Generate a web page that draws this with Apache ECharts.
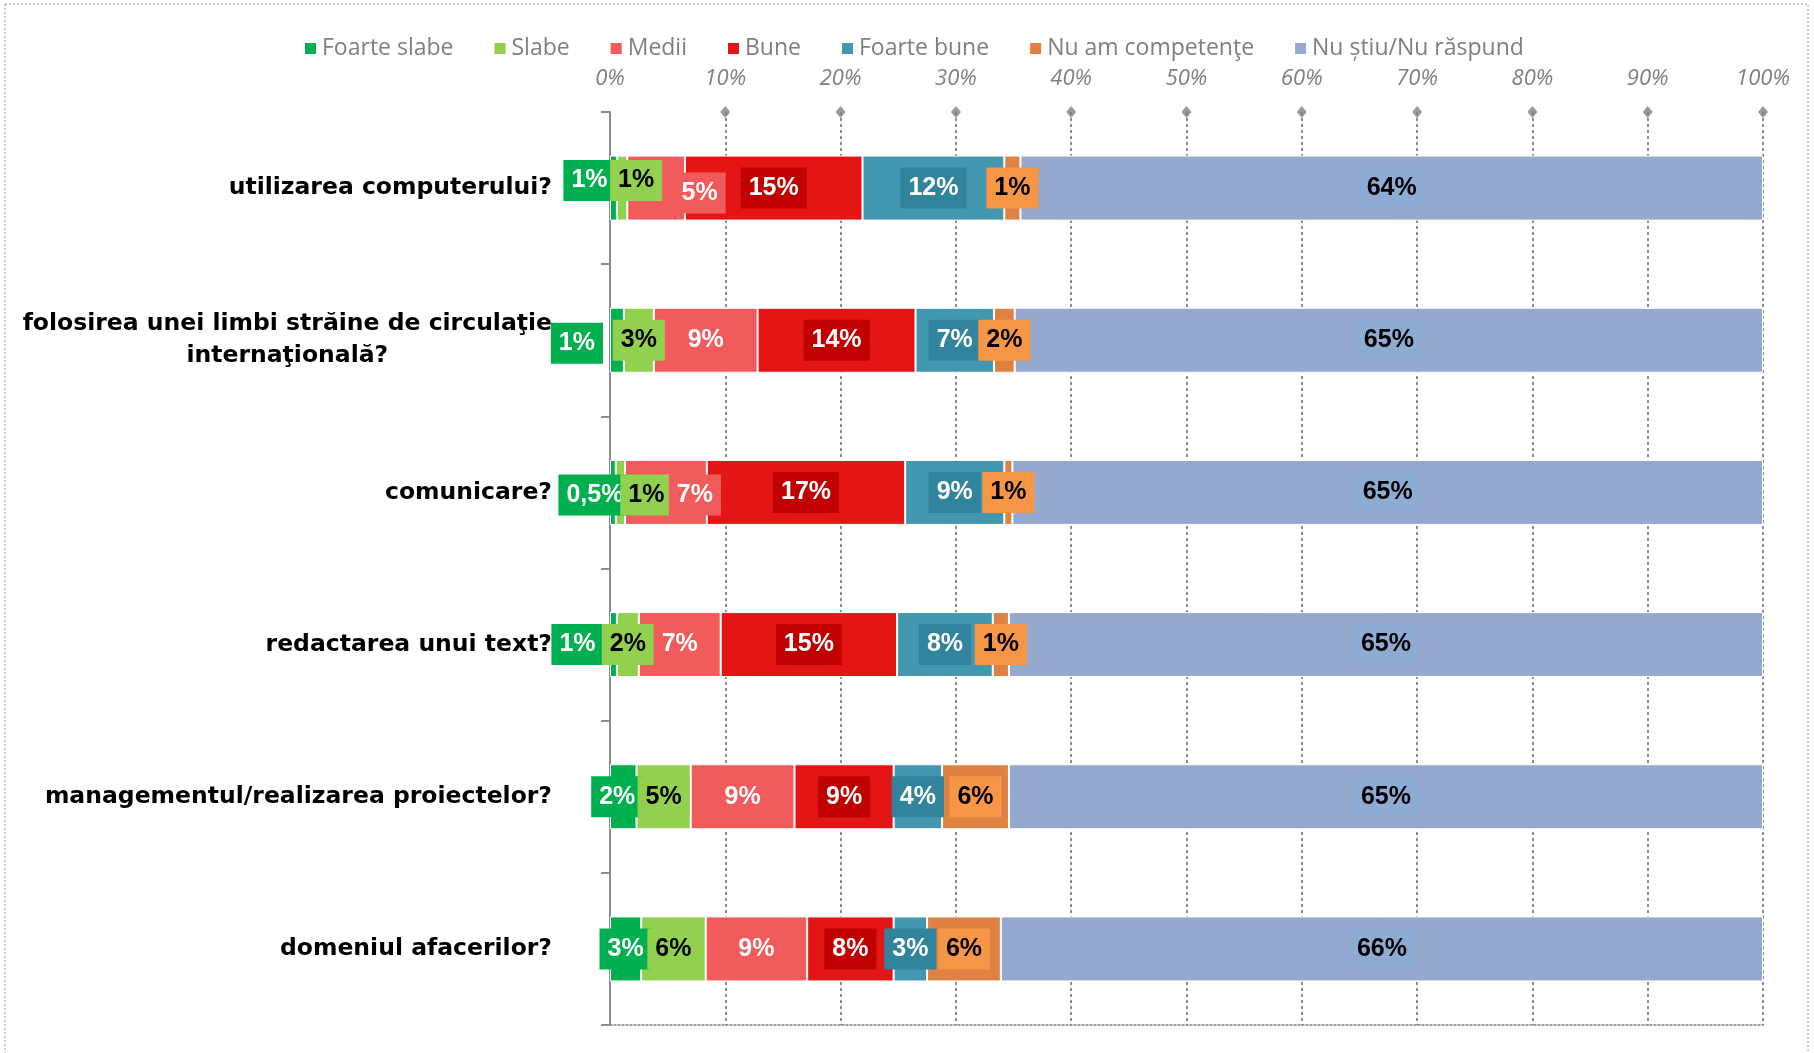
<!DOCTYPE html>
<html>
<head>
<meta charset="utf-8">
<script src="https://cdn.jsdelivr.net/npm/echarts@6/dist/echarts.min.js"></script>
<style>
html,body{margin:0;padding:0;background:#fff;}
#chart{width:1814px;height:1053px;}
</style>
</head>
<body>
<div id="chart"></div>
<script>
// ---- data ----
const categories = [
  'utilizarea computerului?',
  'folosirea unei limbi străine de circulaţie\ninternaţională?',
  'comunicare?',
  'redactarea unui text?',
  'managementul/realizarea proiectelor?',
  'domeniul afacerilor?'
];
const seriesNames = ['Foarte slabe','Slabe','Medii','Bune','Foarte bune','Nu am competenţe','Nu știu/Nu răspund'];
const foarteSlabe = [0.6, 1.2, 0.5, 0.6, 2.3, 2.7];
const slabe       = [0.9, 2.6, 0.8, 1.9, 4.7, 5.6];
const medii       = [5.0, 9.0, 7.1, 7.1, 9.0, 8.8];
const bune        = [15.4, 13.7, 17.2, 15.3, 8.6, 7.5];
const foarteBune  = [12.3, 6.8, 8.6, 8.3, 4.2, 2.9];
const nuAmComp    = [1.4, 1.8, 0.7, 1.4, 5.8, 6.4];
const nuStiu      = [64.4, 64.9, 65.1, 65.4, 65.4, 66.1];
const xTicks = [0,10,20,30,40,50,60,70,80,90,100];

// ---- styles ----
const barColors   = ['#00B050','#92D050','#F15B5B','#E31515','#4397B0','#DD8240','#95A9CF'];
const labelBg     = ['#00B050','#92D050','#F15B5B','#C00000','#31849B','#F79646','#8EABD4'];
const labelColor  = ['#fff','#000','#fff','#fff','#fff','#000','#000'];
// manual label nudges (px) per series -> row
const labelNudge = {
  0: {0:[-24,-7.5], 1:[-40,3], 2:[-18,2.5], 3:[-36,0], 4:[-6,0]},
  1: {0:[14,-7.5], 2:[26,2.5]},
  2: {0:[43.5,5], 2:[29,2.5]}
};

const allValues = [foarteSlabe, slabe, medii, bune, foarteBune, nuAmComp, nuStiu];

function fmt(v){
  if (v < 0.55) return v.toFixed(1).replace('.', ',') + '%';
  return Math.round(v) + '%';
}

const series = allValues.map((vals, si) => ({
  name: seriesNames[si],
  type: 'bar',
  stack: 'total',
  barWidth: 65,
  itemStyle: { color: barColors[si], borderColor: '#fff', borderWidth: 1 },
  label: {
    show: true,
    position: 'inside',
    formatter: p => fmt(p.value),
    color: labelColor[si],
    backgroundColor: labelBg[si],
    fontFamily: 'Liberation Sans',
    fontWeight: 'bold',
    fontSize: 25,
    lineHeight: 25,
    padding: [8, 8, 8, 8]
  },
  data: vals.map((v, ri) => {
    const n = labelNudge[si] && labelNudge[si][ri];
    return n ? { value: v, label: { offset: n } } : { value: v };
  })
}));

series.push({
  name: 'ticks',
  type: 'scatter',
  xAxisIndex: 0,
  yAxisIndex: 1,
  symbol: 'diamond',
  symbolSize: [10, 12],
  itemStyle: { color: '#808080' },
  silent: true,
  clip: false,
  z: 5,
  data: xTicks.filter(t => t > 0).map(t => [t, 1])
});

const chart = echarts.init(document.getElementById('chart'), null, { renderer: 'canvas' });
chart.setOption({
  animation: false,
  backgroundColor: '#fff',
  graphic: [{
    type: 'rect',
    shape: { x: 5, y: 4, width: 1803, height: 1070 },
    style: { fill: 'none', stroke: '#9a9a9a', lineWidth: 1, lineDash: [2, 2] },
    silent: true
  }],
  legend: {
    data: seriesNames,
    top: 32,
    left: 298,
    itemWidth: 13,
    itemHeight: 13,
    itemGap: 39,
    icon: 'rect',
    textStyle: { fontFamily: 'Open Sans', fontSize: 23, color: '#7f7f7f' }
  },
  grid: { left: 610, right: 51, top: 112, bottom: 28, containLabel: false },
  xAxis: {
    type: 'value',
    position: 'top',
    min: 0, max: 100, interval: 10,
    axisLine: { show: true, lineStyle: { color: '#808080', width: 1.5, type: [2, 2] } },
    axisTick: { show: false },
    axisLabel: {
      margin: 22,
      formatter: v => v + '%',
      fontFamily: 'Open Sans', fontStyle: 'italic', fontSize: 22, color: '#808080'
    },
    splitLine: { show: true, lineStyle: { color: '#8c8c8c', width: 2, type: [3, 3] } }
  },
  yAxis: [{
    type: 'category',
    data: categories,
    inverse: true,
    axisLine: { show: true, lineStyle: { color: '#8c8c8c', width: 2 } },
    axisTick: { show: true, length: 9, lineStyle: { color: '#8c8c8c', width: 2 } },
    axisLabel: {
      margin: 58,
      formatter: v => v.split('\n').map(l => '{c|' + l + '}').join('\n'),
      rich: {
        c: {
          align: 'center',
          fontFamily: 'DejaVu Sans', fontWeight: 'bold', fontSize: 23.5, color: '#000', lineHeight: 32
        }
      }
    },
    splitLine: { show: false }
  }, {
    type: 'value',
    min: 0, max: 1,
    show: false
  }],
  series: series
});
</script>
</body>
</html>
